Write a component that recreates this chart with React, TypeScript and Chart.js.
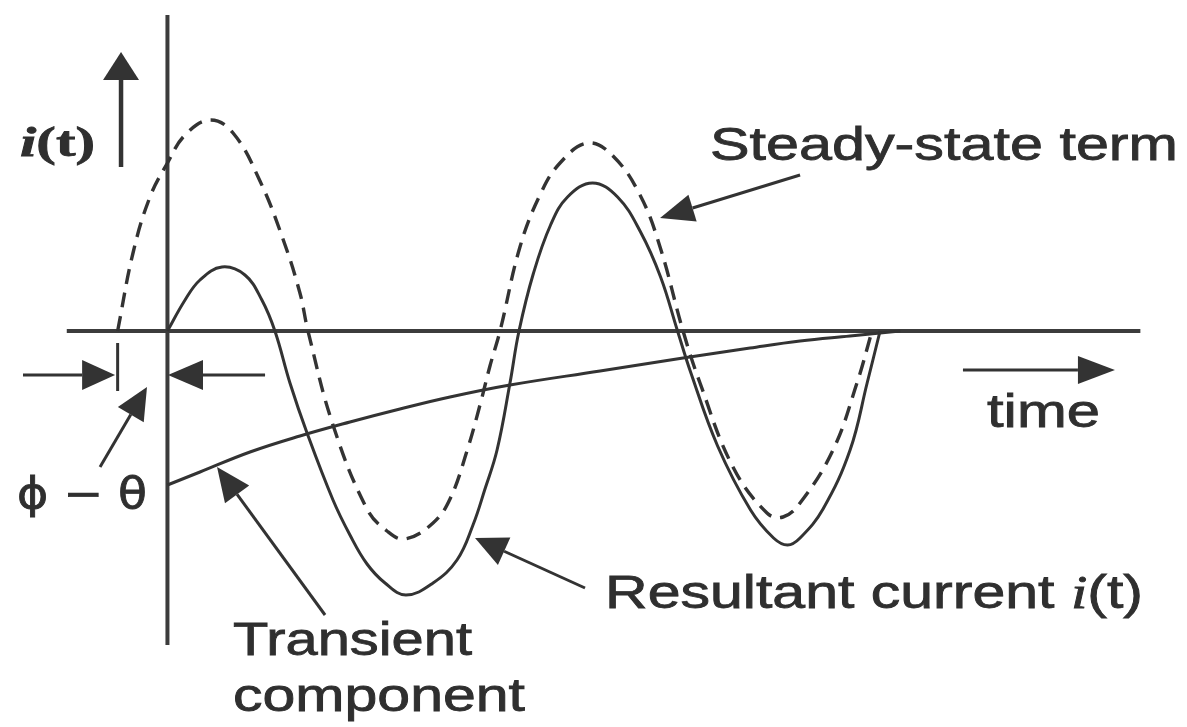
import { useEffect, useRef } from "react";
import { Chart, registerables } from "chart.js";

Chart.register(...registerables);

// Phase angle (electrical degrees, 0 = switching instant) and current (per unit)
const steadyT = [-47, -32.5, -16.5, 0, 16.6, 40.1, 61.9, 87.3, 109, 125, 132.6, 156.2, 188.3, 207.1, 224.1, 250.6, 266.6, 282.6, 294.9, 304.3, 313.8, 332.6, 351.5, 370.4, 396.8, 420.4, 445.9, 464.8, 486.5, 502.5, 533.6, 565.7, 580.8, 596.9, 628, 650.6, 664.8];
const steadyI = [0, 0.39, 0.67, 0.84, 0.98, 1.055, 0.99, 0.75, 0.46, 0.19, 0, -0.47, -0.89, -1.0, -1.04, -0.96, -0.84, -0.6, -0.37, -0.175, 0, 0.42, 0.68, 0.84, 0.94, 0.875, 0.68, 0.42, 0, -0.26, -0.68, -0.91, -0.93, -0.86, -0.595, -0.26, 0];

const resultantT = [0, 16.6, 30.7, 51.4, 73.1, 89.1, 101.4, 115.6, 131.7, 156.2, 172.2, 188.3, 205.3, 225, 250.6, 273.2, 288.3, 299.6, 311, 323.2, 331.7, 345.4, 361.5, 377.5, 401.1, 424.7, 446.4, 465.3, 481.3, 493.6, 519.1, 550.2, 571.9, 585.1, 596.9, 618.6, 644.1, 660.2, 672.4];
const resultantI = [0, 0.155, 0.255, 0.32, 0.28, 0.155, 0, -0.26, -0.51, -0.845, -1.02, -1.165, -1.26, -1.32, -1.26, -1.145, -0.97, -0.79, -0.595, -0.26, 0, 0.29, 0.53, 0.67, 0.74, 0.67, 0.495, 0.27, 0, -0.205, -0.575, -0.895, -1.035, -1.07, -1.035, -0.89, -0.595, -0.26, 0];

const transientT = [0, 30.7, 77.9, 125, 172.2, 219.4, 266.6, 323.2, 408.2, 486.5, 549.7, 596.9, 644.1, 691.3];
const transientI = [-0.77, -0.705, -0.605, -0.525, -0.455, -0.39, -0.33, -0.27, -0.2, -0.135, -0.085, -0.05, -0.025, 0];

// Visible window and axis line extents (data units)
const X_MIN = -158;
const X_MAX = 962;
const Y_MIN = -1.98;
const Y_MAX = 1.655;
const TIME_AXIS = [-95, 918];
const CURRENT_AXIS = [1.58, -1.57];

const INK = "#333333";
const TEXT = "#2f2f2f";
const SANS = "'Liberation Sans', Arial, sans-serif";
const SERIF = "'Liberation Serif', 'Times New Roman', serif";

// Pointer arrows in data units: [tailX, tailY, tipX, tipY, headLength, headHalfWidth, lineWidth]
const pointers: number[][] = [
  [-43.8, 0.82, -43.8, 1.395, 28, 18, 4.5],
  [596.9, 0.78, 464.8, 0.565, 34, 14, 3],
  [394, -1.285, 290.2, -1.035, 32, 15, 3],
  [148.7, -1.42, 46.8, -0.68, 34, 15, 3],
  [-63.6, -0.68, -19.3, -0.28, 32, 15, 3],
  [-136.3, -0.22, -49.4, -0.22, 33, 15, 3],
  [92.1, -0.22, 0.5, -0.22, 35, 15, 3],
  [750.6, -0.195, 894, -0.195, 37, 14, 3],
];

type Part = { text: string; font: string };
type Label = { parts: Part[]; left: number; baseline: number; width: number };

const labels: Label[] = [
  { parts: [{ text: "i", font: `italic bold 42px ${SERIF}` }, { text: "(t)", font: `bold 42px ${SERIF}` }], left: 20, baseline: 156, width: 75 },
  { parts: [{ text: "\u03D5 \u2212 \u03B8", font: `42px 'DejaVu Sans', sans-serif` }], left: 17, baseline: 508, width: 130 },
  { parts: [{ text: "Steady-state term", font: `46px ${SANS}` }], left: 710, baseline: 160, width: 468 },
  { parts: [{ text: "time", font: `46px ${SANS}` }], left: 987, baseline: 427, width: 113 },
  {
    parts: [
      { text: "Resultant current ", font: `46px ${SANS}` },
      { text: "i", font: `italic 46px ${SERIF}` },
      { text: "(t)", font: `46px ${SANS}` },
    ],
    left: 605,
    baseline: 608,
    width: 538,
  },
  { parts: [{ text: "Transient", font: `46px ${SANS}` }], left: 233, baseline: 655, width: 239 },
  { parts: [{ text: "component", font: `46px ${SANS}` }], left: 233, baseline: 711, width: 292 },
];

const toPoints = (ts: number[], vs: number[]) => ts.map((t, k) => ({ x: t, y: vs[k] }));

function drawArrow(ctx: CanvasRenderingContext2D, x1: number, y1: number, x2: number, y2: number, len: number, half: number, lw: number) {
  const a = Math.atan2(y2 - y1, x2 - x1);
  const bx = x2 - len * Math.cos(a);
  const by = y2 - len * Math.sin(a);
  ctx.lineWidth = lw;
  ctx.beginPath();
  ctx.moveTo(x1, y1);
  ctx.lineTo(bx, by);
  ctx.stroke();
  ctx.beginPath();
  ctx.moveTo(x2, y2);
  ctx.lineTo(bx + half * Math.sin(a), by - half * Math.cos(a));
  ctx.lineTo(bx - half * Math.sin(a), by + half * Math.cos(a));
  ctx.closePath();
  ctx.fill();
}

function drawStretched(ctx: CanvasRenderingContext2D, label: Label) {
  let natural = 0;
  for (const p of label.parts) {
    ctx.font = p.font;
    natural += ctx.measureText(p.text).width;
  }
  const sx = label.width / natural;
  ctx.save();
  ctx.translate(label.left, label.baseline);
  ctx.scale(sx, 1);
  let x = 0;
  for (const p of label.parts) {
    ctx.font = p.font;
    ctx.fillText(p.text, x, 0);
    // a thin outline thickens the glyphs slightly
    ctx.lineWidth = 0.8;
    ctx.strokeText(p.text, x, 0);
    x += ctx.measureText(p.text).width;
  }
  ctx.restore();
}

const axesPlugin = {
  id: "currentAxes",
  beforeDatasetsDraw(chart: Chart) {
    const { ctx } = chart;
    const xs = chart.scales.x;
    const ys = chart.scales.y;
    ctx.save();
    ctx.strokeStyle = "#3c3c3c";
    ctx.lineWidth = 4;
    ctx.beginPath();
    ctx.moveTo(xs.getPixelForValue(TIME_AXIS[0]), ys.getPixelForValue(0));
    ctx.lineTo(xs.getPixelForValue(TIME_AXIS[1]), ys.getPixelForValue(0));
    ctx.moveTo(xs.getPixelForValue(0), ys.getPixelForValue(CURRENT_AXIS[0]));
    ctx.lineTo(xs.getPixelForValue(0), ys.getPixelForValue(CURRENT_AXIS[1]));
    ctx.stroke();
    ctx.restore();
  },
  afterDatasetsDraw(chart: Chart) {
    const { ctx } = chart;
    const xs = chart.scales.x;
    const ys = chart.scales.y;
    ctx.save();
    ctx.strokeStyle = INK;
    ctx.fillStyle = INK;
    ctx.lineCap = "butt";
    // phase-offset marker below the steady-state zero crossing
    ctx.lineWidth = 3;
    ctx.beginPath();
    ctx.moveTo(xs.getPixelForValue(steadyT[0]), ys.getPixelForValue(-0.06));
    ctx.lineTo(xs.getPixelForValue(steadyT[0]), ys.getPixelForValue(-0.3));
    ctx.stroke();
    for (const [tx, ty, hx, hy, len, half, lw] of pointers) {
      drawArrow(ctx, xs.getPixelForValue(tx), ys.getPixelForValue(ty), xs.getPixelForValue(hx), ys.getPixelForValue(hy), len, half, lw);
    }
    ctx.fillStyle = TEXT;
    ctx.strokeStyle = TEXT;
    ctx.textBaseline = "alphabetic";
    ctx.textAlign = "left";
    for (const label of labels) drawStretched(ctx, label);
    ctx.restore();
  },
};

export default function App() {
  const ref = useRef<HTMLCanvasElement>(null);

  useEffect(() => {
    if (!ref.current) return;
    const chart = new Chart(ref.current, {
      type: "line",
      data: {
        datasets: [
          {
            label: "Steady-state term",
            data: toPoints(steadyT, steadyI),
            borderColor: INK,
            borderWidth: 3.4,
            borderDash: [15, 9],
            pointRadius: 0,
            fill: false,
            tension: 0.4,
          },
          {
            label: "Resultant current i(t)",
            data: toPoints(resultantT, resultantI),
            borderColor: INK,
            borderWidth: 3,
            pointRadius: 0,
            fill: false,
            tension: 0.4,
          },
          {
            label: "Transient component",
            data: toPoints(transientT, transientI),
            borderColor: INK,
            borderWidth: 3,
            pointRadius: 0,
            fill: false,
            tension: 0.4,
          },
        ],
      },
      options: {
        animation: false,
        responsive: false,
        devicePixelRatio: 1,
        events: [],
        layout: { padding: 0 },
        elements: { line: { capBezierPoints: false } },
        scales: {
          x: { type: "linear", min: X_MIN, max: X_MAX, display: false },
          y: { type: "linear", min: Y_MIN, max: Y_MAX, display: false },
        },
        plugins: {
          legend: { display: false },
          tooltip: { enabled: false },
        },
      },
      plugins: [axesPlugin],
    });
    return () => chart.destroy();
  }, []);

  return (
    <div style={{ position: "fixed", left: 0, top: 0, width: 1187, height: 727, background: "#fff" }}>
      <canvas ref={ref} width={1187} height={727} style={{ display: "block" }} />
    </div>
  );
}
